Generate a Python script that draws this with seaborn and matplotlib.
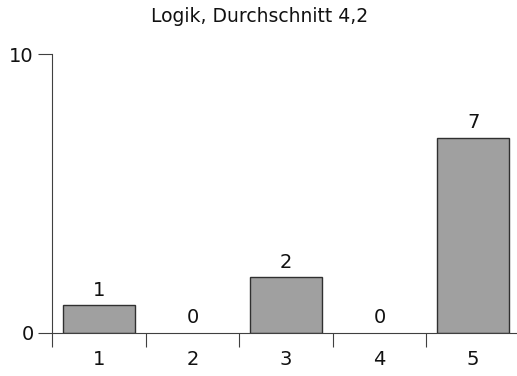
import matplotlib
matplotlib.use("Agg")
import matplotlib.pyplot as plt
import seaborn as sns
import pandas as pd
import numpy as np

categories = ["1", "2", "3", "4", "5"]
counts = [1, 0, 2, 0, 7]
title = "Logik, Durchschnitt 4,2"

sns.set_theme(style="white")
plt.rcParams['font.family'] = ['DejaVu Sans']

df = pd.DataFrame({"cat": categories, "n": counts})

fig = plt.figure(figsize=(5.17, 3.76), dpi=100)
ax = fig.add_axes([52/517, 43/376, 468/517, 279/376])
sns.barplot(data=df, x="cat", y="n", color="#a0a0a0", edgecolor="#303030",
            linewidth=1.0, width=0.77, saturation=1, ax=ax)
for p, v in zip(ax.patches, counts):
    if v == 0:
        p.set_linewidth(0)

ax.set_xlim(-0.5, 4.5)
ax.set_ylim(0, 10)
ax.set_yticks([0, 10])
ax.set_xticks(range(5))
ax.set_xticklabels(categories)
ax.set_xticks(np.arange(-0.5, 5, 1.0), minor=True)
ax.tick_params(axis="x", which="major", length=0, pad=12, labelsize=14, labelcolor="#111111")
ax.tick_params(axis="x", which="minor", length=10, width=0.8, color="#404040", direction="out", bottom=True)
ax.tick_params(axis="y", which="major", length=10, width=0.8, color="#404040", direction="out", left=True, pad=3, labelsize=14, labelcolor="#111111")
ax.set_xlabel("")
ax.set_ylabel("")
for s in ["top", "right"]:
    ax.spines[s].set_visible(False)
for s in ["left", "bottom"]:
    ax.spines[s].set_color("#404040")
    ax.spines[s].set_linewidth(0.8)

for i, v in enumerate(counts):
    ax.annotate(str(v), (i, v), xytext=(0, 4), textcoords="offset points",
                ha="center", va="bottom", fontsize=14, color="#111111")

fig.text(260/517, 1 - 17/376, title, ha="center", va="center", fontsize=13.5, color="#111111")

fig.savefig("out.png", dpi=100)
